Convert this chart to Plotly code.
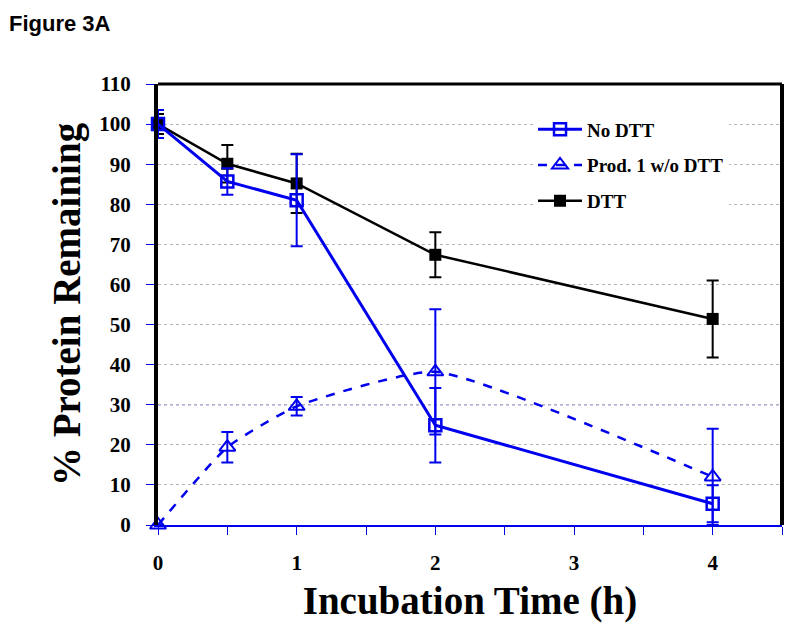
import plotly.graph_objects as go

time_h = [0, 0.5, 1, 2, 4]

no_dtt = [100, 85.7, 81, 24.9, 5.3]
no_dtt_err = [3.5, 3.3, 11.5, 9.3, 4.6]

prod1 = [0, 19.4, 29.6, 38.2, 12.0]
prod1_err = [0, 3.8, 2.3, 15.6, 12.0]

dtt = [100, 90.1, 85.2, 67.4, 51.4]
dtt_err = [2.5, 4.7, 7.4, 5.6, 9.6]

x_tickvals = [0, 0.5, 1, 1.5, 2, 2.5, 3, 3.5, 4, 4.5]
x_ticktext = ["0", "", "1", "", "2", "", "3", "", "4", ""]
y_tickvals = list(range(0, 111, 10))

BLUE = "#0000ee"
SERIF = "Liberation Serif, Times New Roman, serif"

fig = go.Figure()

fig.add_trace(go.Scatter(
    x=time_h, y=dtt, name="DTT", mode="lines+markers", legendrank=3,
    legendgroup="c",
    line=dict(color="black", width=2.5),
    marker=dict(symbol="square", size=12, color="black"),
    error_y=dict(type="data", array=dtt_err, color="black", thickness=2, width=6),
    cliponaxis=False,
))
fig.add_trace(go.Scatter(
    x=time_h, y=prod1, name="Prod. 1 w/o DTT", mode="lines+markers", legendrank=2,
    legendgroup="b",
    line=dict(color=BLUE, width=2.5, dash="dash", shape="spline", smoothing=0.5),
    marker=dict(symbol="triangle-up-open", size=14, color=BLUE, line=dict(width=2, color=BLUE)),
    error_y=dict(type="data", array=prod1_err, color=BLUE, thickness=2, width=6),
    cliponaxis=False,
))
fig.add_trace(go.Scatter(
    x=time_h, y=no_dtt, name="No DTT", mode="lines+markers", legendrank=1,
    legendgroup="a",
    line=dict(color=BLUE, width=3),
    marker=dict(symbol="square-open", size=12, color=BLUE, line=dict(width=2.5, color=BLUE)),
    error_y=dict(type="data", array=no_dtt_err, color=BLUE, thickness=2, width=6),
    cliponaxis=False,
))

# blue dotted reference gridline at 30, plot frame
fig.add_shape(type="line", xref="paper", yref="y", x0=0, x1=1, y0=30, y1=30,
              line=dict(color=BLUE, width=1, dash="dot"), layer="below")
fig.add_shape(type="line", xref="paper", yref="paper", x0=0, x1=1, y0=1, y1=1,
              line=dict(color="black", width=3), layer="above")
fig.add_shape(type="line", xref="paper", yref="paper", x0=1, x1=1, y0=0, y1=1,
              line=dict(color="black", width=4), layer="above")

fig.add_annotation(text="<b>Figure 3A</b>", xref="paper", yref="paper", x=-0.24, y=1.168,
                   xanchor="left", yanchor="top", showarrow=False, borderpad=0,
                   font=dict(family="Liberation Sans, Arial, sans-serif", size=22, color="black"),
                   )

fig.update_layout(
    width=776, height=616,
    margin=dict(l=150, r=2, t=76, b=99),
    paper_bgcolor="white", plot_bgcolor="white",
    font=dict(family=SERIF, color="black"),
    showlegend=True,
    legend=dict(
        x=0.601, y=0.94, xanchor="left", yanchor="top",
        bgcolor="white", borderwidth=0,
        font=dict(family=SERIF, size=19, color="black", weight="bold"),
        tracegroupgap=8, itemwidth=44,
    ),
    xaxis=dict(
        range=[0, 4.5], tickvals=x_tickvals, ticktext=x_ticktext,
        showgrid=False, zeroline=False, automargin=False,
        showline=True, linecolor=BLUE, linewidth=2,
        ticks="outside", tickcolor=BLUE, ticklen=8, tickwidth=1,
        ticklabelstandoff=10,
        tickfont=dict(family=SERIF, size=21, color="black", weight="bold"),
        title=dict(text="Incubation Time (h)", standoff=12,
                   font=dict(family=SERIF, size=39, color="black", weight="bold")),
    ),
    yaxis=dict(
        range=[0, 110], tickvals=y_tickvals,
        showgrid=True, gridcolor="#b4b4b4", gridwidth=1, griddash="dot",
        zeroline=False, automargin=False,
        showline=True, linecolor="black", linewidth=4,
        ticks="outside", tickcolor=BLUE, ticklen=8, tickwidth=1,
        ticklabelstandoff=11,
        tickfont=dict(family=SERIF, size=21, color="black", weight="bold"),
        title=dict(text="% Protein Remaining", standoff=8,
                   font=dict(family=SERIF, size=39, color="black", weight="bold")),
    ),
)

fig.write_html("out.html")
